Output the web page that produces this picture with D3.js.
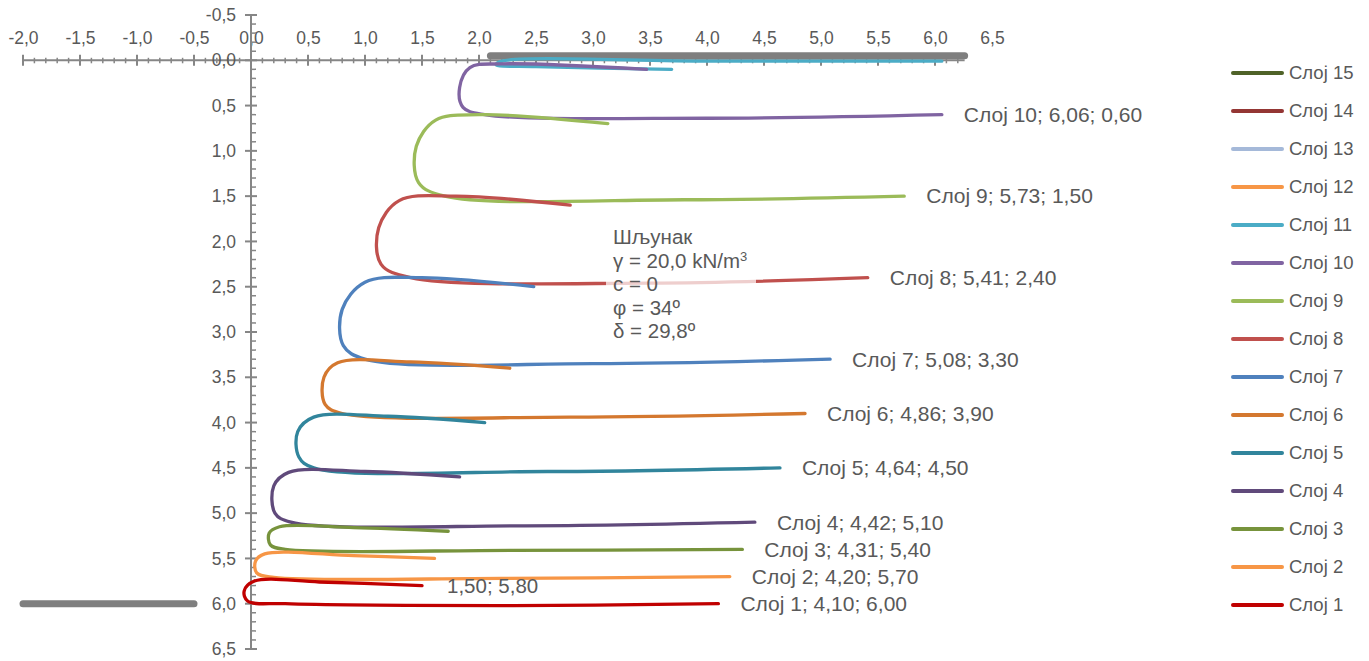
<!DOCTYPE html>
<html>
<head>
<meta charset="utf-8">
<script src="https://cdn.jsdelivr.net/npm/d3@7"></script>
<style>
  body { margin: 0; background: #fff; }
  text { font-family: "Liberation Sans", Arial, sans-serif; fill: #595959; }
</style>
</head>
<body>
<svg id="chart" width="1369" height="661"></svg>
<script>
// layer names, legend order is reversed (15 at the top)
const layerNames = d3.range(1, 16).map(i => "Слој " + i);
const layerColors = ["#C00000", "#F79646", "#77933C", "#604A7B", "#31859C", "#D4782F", "#4F81BD",
    "#C0504D", "#9BBB59", "#8064A2", "#4BACC6", "#F79646", "#A5B9D9", "#943634", "#4F6228"];

// pressure loops per layer: [x, depth]
const layer1 = [[1.50, 5.80], [0.60, 5.76], [0.03, 5.75], [-0.06, 5.86], [-0.03, 5.97], [0.30, 6.00], [2.30, 6.02], [4.10, 6.00]];
const layer2 = [[1.61, 5.50], [0.90, 5.47], [0.12, 5.45], [0.04, 5.53], [0.05, 5.66], [0.20, 5.71], [2.20, 5.72], [4.20, 5.70]];
const layer3 = [[1.73, 5.20], [0.90, 5.16], [0.25, 5.15], [0.16, 5.22], [0.17, 5.35], [0.30, 5.40], [2.30, 5.41], [4.31, 5.40]];
const layer4 = [[1.83, 4.60], [1.00, 4.54], [0.33, 4.55], [0.20, 4.70], [0.21, 5.00], [0.35, 5.10], [2.40, 5.14], [4.42, 5.10]];
const layer5 = [[2.05, 4.00], [1.20, 3.93], [0.55, 3.94], [0.41, 4.10], [0.42, 4.38], [0.55, 4.50], [2.60, 4.54], [4.64, 4.50]];
const layer6 = [[2.27, 3.40], [1.40, 3.33], [0.76, 3.34], [0.64, 3.50], [0.65, 3.80], [0.80, 3.90], [2.80, 3.94], [4.86, 3.90]];
const layer7 = [[2.48, 2.50], [1.50, 2.40], [1.00, 2.45], [0.80, 2.75], [0.81, 3.15], [1.00, 3.30], [3.00, 3.35], [5.08, 3.30]];
const layer8 = [[2.80, 1.60], [1.80, 1.50], [1.30, 1.55], [1.12, 1.85], [1.14, 2.25], [1.40, 2.40], [3.50, 2.46], [5.41, 2.40]];
const layer9 = [[3.13, 0.70], [2.00, 0.60], [1.62, 0.66], [1.45, 0.95], [1.47, 1.35], [1.70, 1.50], [3.80, 1.54], [5.73, 1.50]];
const layer10 = [[3.47, 0.10], [2.20, 0.04], [1.92, 0.08], [1.83, 0.30], [1.86, 0.52], [2.05, 0.60], [4.00, 0.64], [6.06, 0.60]];
const layer11 = [[3.69, 0.10], [2.50, 0.07], [2.15, 0.05], [2.20, 0.01], [4.00, 0.01], [6.06, 0.01]];
const layers = [layer1, layer2, layer3, layer4, layer5, layer6, layer7, layer8, layer9, layer10, layer11];
const labelledLayers = 10;

// wall / bottom markers (thick gray)
const wallTop = [[2.10, -0.05], [6.26, -0.05]];
const wallBottom = [[-2.00, 6.00], [-0.50, 6.00]];

// ticks
const xMajor = d3.range(-20, 66, 5).map(d => d / 10);
const yMajor = d3.range(-5, 66, 5).map(d => d / 10);
const xAxisEnd = 6.26;

const soilLines = ["Шљунак", "γ = 20,0 kN/m", "c = 0", "φ = 34º", "δ = 29,8º"];

const loc = d3.formatLocale({ decimal: ",", thousands: ".", grouping: [3], currency: ["", ""], minus: "-" });
const f1 = loc.format(".1f");
const f2 = loc.format(".2f");

const svg = d3.select("#chart");
const x = d3.scaleLinear().domain([-2, 6.5]).range([23, 992]);
const y = d3.scaleLinear().domain([-0.5, 6.5]).range([15, 649]);
const axisColor = "#868686";

// x axis (top, at depth 0)
const xg = svg.append("g").attr("transform", `translate(0,${y(0)})`);
xg.call(d3.axisTop(x).tickValues(xMajor).tickSize(0).tickPadding(16).tickFormat(f1));
xg.select(".domain").remove();
xg.selectAll("text").attr("font-size", 17.5).attr("font-family", null).style("fill", "#595959");
xg.append("line").attr("x1", x(-2)).attr("x2", x(xAxisEnd)).attr("stroke", axisColor).attr("stroke-width", 2);
xg.selectAll(".minor").data(d3.range(-20, 63).map(d => d / 10).filter(d => Math.round(d * 10) % 5 !== 0))
    .enter().append("line")
    .attr("x1", d => x(d)).attr("x2", d => x(d))
    .attr("y1", -2.5).attr("y2", 3)
    .attr("stroke", axisColor).attr("stroke-width", 1.5);
xg.selectAll(".major").data(xMajor.filter(d => d <= xAxisEnd))
    .enter().append("line")
    .attr("x1", d => x(d)).attr("x2", d => x(d))
    .attr("y1", -5.5).attr("y2", 5.5)
    .attr("stroke", axisColor).attr("stroke-width", 2);

// y axis (at x 0)
const yg = svg.append("g").attr("transform", `translate(${x(0)},0)`);
yg.call(d3.axisLeft(y).tickValues(yMajor).tickSize(0).tickPadding(15).tickFormat(f1));
yg.select(".domain").remove();
yg.selectAll("text").attr("font-size", 17.5).attr("font-family", null).style("fill", "#595959");
yg.append("line").attr("y1", y(-0.5)).attr("y2", y(6.5)).attr("stroke", axisColor).attr("stroke-width", 2);
yg.selectAll(".minor").data(d3.range(-5, 65).map(d => d / 10).filter(d => Math.round(d * 10) % 5 !== 0))
    .enter().append("line")
    .attr("y1", d => y(d)).attr("y2", d => y(d))
    .attr("x1", 0).attr("x2", 5)
    .attr("stroke", axisColor).attr("stroke-width", 1.5);
yg.selectAll(".major").data(yMajor)
    .enter().append("line")
    .attr("y1", d => y(d)).attr("y2", d => y(d))
    .attr("x1", -6).attr("x2", 6)
    .attr("stroke", axisColor).attr("stroke-width", 2);

const line = d3.line().x(d => x(d[0])).y(d => y(d[1])).curve(d3.curveCatmullRom.alpha(0.5));
const straight = d3.line().x(d => x(d[0])).y(d => y(d[1]));

// gray bars
[wallTop, wallBottom].forEach(w => {
    svg.append("path").attr("d", straight(w))
        .attr("fill", "none").attr("stroke", "#7F7F7F")
        .attr("stroke-width", 7).attr("stroke-linecap", "round");
});

// series, drawn from 11 down to 1 like the stacking in the picture
for (let i = layers.length - 1; i >= 0; i--) {
    svg.append("path").attr("d", line(layers[i]))
        .attr("fill", "none").attr("stroke", layerColors[i])
        .attr("stroke-width", 3.3).attr("stroke-linecap", "round");
}

// soil parameters box (semi-transparent)
svg.append("rect").attr("x", 606).attr("y", 224).attr("width", 150).attr("height", 122)
    .attr("fill", "#fff").attr("fill-opacity", 0.72);
const tb = svg.append("text").attr("font-size", 20.5);
soilLines.forEach((s, i) => {
    tb.append("tspan").attr("x", 613).attr("y", 244 + i * 23.5).text(s);
    if (i === 1) tb.append("tspan").attr("font-size", 13).attr("dy", -7).text("3");
});

// end labels
for (let i = 0; i < labelledLayers; i++) {
    const p = layers[i][layers[i].length - 1];
    svg.append("text").attr("x", x(p[0]) + 22).attr("y", y(p[1])).attr("dy", "0.35em")
        .attr("font-size", 21)
        .text(`${layerNames[i]}; ${f2(p[0])}; ${f2(p[1])}`);
}
const s1 = layer1[0];
svg.append("text").attr("x", x(s1[0]) + 25).attr("y", y(s1[1])).attr("dy", "0.35em")
    .attr("font-size", 20.5).text(`${f2(s1[0])}; ${f2(s1[1])}`);

// legend
const legend = svg.append("g");
layerNames.slice().reverse().forEach((name, k) => {
    const i = layerNames.length - 1 - k;
    const ly = 73 + k * 38;
    legend.append("line").attr("x1", 1233).attr("x2", 1282).attr("y1", ly).attr("y2", ly)
        .attr("stroke", layerColors[i]).attr("stroke-width", 4).attr("stroke-linecap", "round");
    legend.append("text").attr("x", 1289).attr("y", ly).attr("dy", "0.35em")
        .attr("font-size", 18.5).text(name);
});
</script>
</body>
</html>
